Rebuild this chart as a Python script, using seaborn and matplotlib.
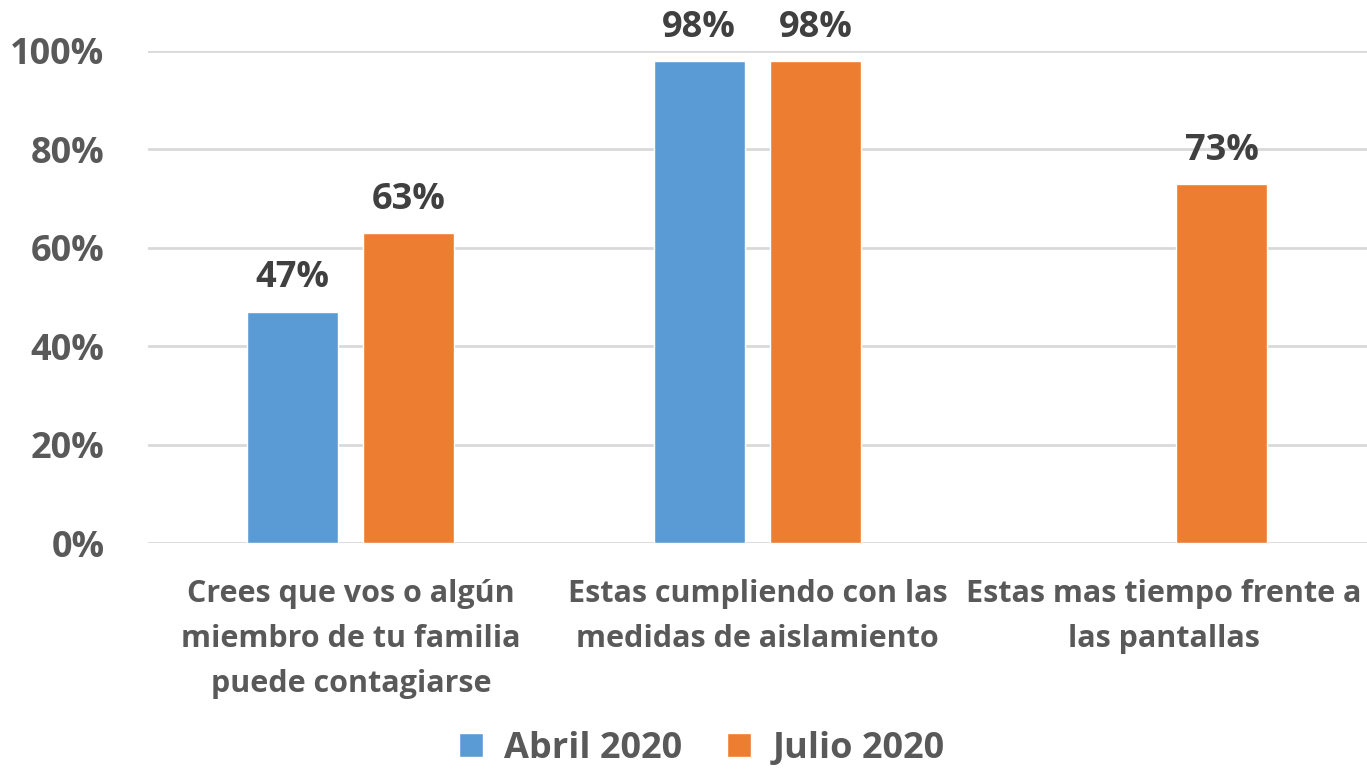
import pandas as pd
import seaborn as sns
import matplotlib.pyplot as plt

categorias = ["Crees que vos o algún\nmiembro de tu familia\npuede contagiarse",
              "Estas cumpliendo con las\nmedidas de aislamiento",
              "Estas mas tiempo frente a\nlas pantallas"]
abril = [47, 98, None]
julio = [63, 98, 73]
series = ["Abril 2020", "Julio 2020"]
colores = ["#5B9BD5", "#ED7D31"]

df = pd.DataFrame({
    "categoria": categorias * 2,
    "serie": [series[0]] * 3 + [series[1]] * 3,
    "valor": abril + julio,
})

sns.set_style("white")
plt.rcParams['font.family'] = ['Open Sans', 'DejaVu Sans']
plt.rcParams['font.weight'] = 'bold'

fig = plt.figure(figsize=(13.67, 7.70), dpi=100)
ax = fig.add_axes([0.108, 0.2948, 0.892, 0.639])

sns.barplot(data=df, x="categoria", y="valor", hue="serie", palette=colores,
            width=0.571, gap=0.216, ax=ax, legend=True, saturation=1)

ax.set_ylim(0, 100)
ax.set_yticks(range(0, 101, 20))
ax.set_yticklabels([f"{v}%" for v in range(0, 101, 20)], fontsize=26,
                   color="#595959", fontweight="bold")
ax.tick_params(axis="x", labelsize=22, labelcolor="#595959", length=0, pad=26)
ax.tick_params(axis="y", length=0, pad=31)
for lbl in ax.get_xticklabels():
    lbl.set_fontweight("bold")
    lbl.set_linespacing(1.65)
ax.set_xlabel("")
ax.set_ylabel("")
ax.grid(axis="y", color="#d9d9d9", linewidth=2)
ax.set_axisbelow(True)
for s in ax.spines.values():
    s.set_visible(False)

for cont in ax.containers:
    for bar in cont:
        h = bar.get_height()
        if h > 0:
            ax.annotate(f"{h:.0f}%", (bar.get_x() + bar.get_width() / 2, h),
                        xytext=(0, 11), textcoords="offset points",
                        ha="center", va="bottom", fontsize=26,
                        fontweight="bold", color="#404040", annotation_clip=False)

ax.legend(loc="center", bbox_to_anchor=(0.4545, -0.418), ncol=2,
          frameon=False, fontsize=26, handlelength=0.665, handleheight=0.665,
          columnspacing=1.25, handletextpad=0.58, labelcolor="#595959")

fig.savefig("out.png", dpi=100)
